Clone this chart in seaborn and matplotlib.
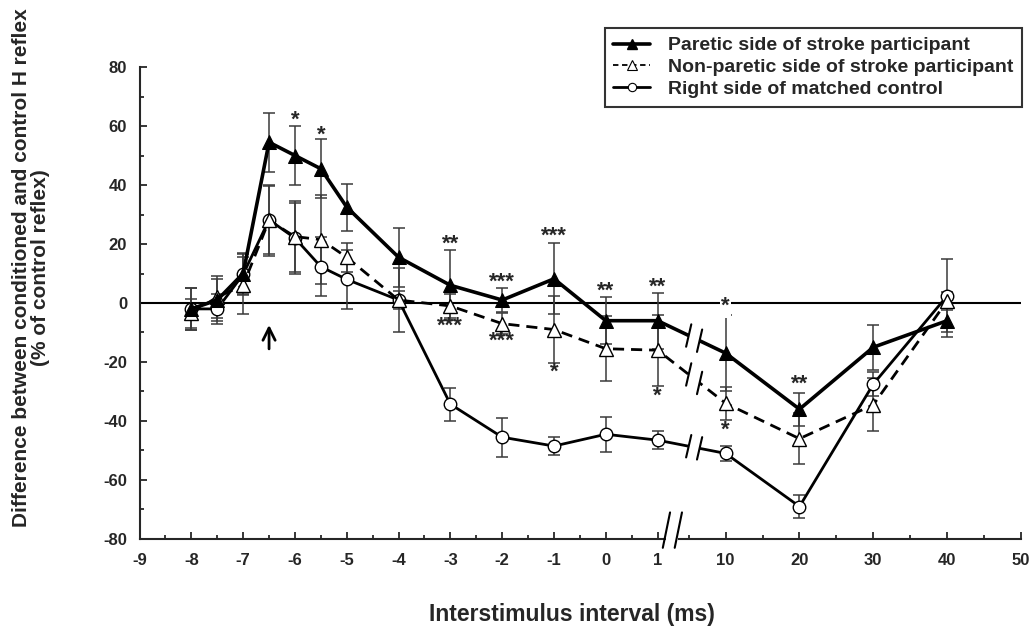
import numpy as np
import pandas as pd
import matplotlib
matplotlib.use("Agg")
import matplotlib.pyplot as plt
from matplotlib.lines import Line2D
from matplotlib.ticker import FixedLocator
import seaborn as sns

# interstimulus intervals (ms)
isi = [-8, -7.5, -7, -6.5, -6, -5.5, -5, -4, -3, -2, -1, 0, 1, 10, 20, 30, 40]

paretic = [-2, 1, 10, 54.5, 50, 45.5, 32.5, 15.5, 6, 1, 8.2, -6, -6, -17, -36, -15, -6]
paretic_err = [7, 7, 7, 10, 10, 10, 8, 10, 11.8, 4, 12, 8, 9.5, 13, 5.6, 7.6, 5.4]

nonparetic = [-3.5, 2, 6, 28, 22.5, 21.5, 15.5, 1, -1, -7, -9, -15.5, -16, -34, -46, -34.5, 0.7]
nonparetic_err = [5, 7, 9.6, 12, 12, 15, 5, 3, 4, 3.5, 11.5, 11, 12, 5.6, 8.7, 9, 3]

control = [-2, -2, 9.7, 28.2, 22, 12.3, 8, 1, -34.3, -45.5, -48.5, -44.5, -46.5, -51, -69, -27.5, 2.4]
control_err = [7, 5, 7, 11.5, 12, 10, 10, 11, 5.6, 6.6, 3, 6, 3, 2.5, 4, 4, 12.4]

# significance marks: isi, y value, text
sig_isi = [-6, -5.5, -3, -3, -2, -2, -1, -1, 0, 1, 1, 10, 10, 20]
sig_y = [62, 57, 20, -8, 7, -13, 22.5, -23.5, 4, 5.5, -31.5, -1, -43, -27.5]
sig_txt = ["*", "*", "**", "***", "***", "***", "***", "*", "**", "**", "*", "*", "*", "**"]

major_isi = [-9, -8, -7, -6, -5, -4, -3, -2, -1, 0, 1, 10, 20, 30, 40, 50]
minor_isi = [-8.5, -7.5, -6.5, -5.5, -4.5, -3.5, -2.5, -1.5, -0.5, 0.5, 5, 15, 25, 35, 45]


def isi_pos(v):
    # broken axis: unit spacing up to 1 ms, compressed scale from 10 ms on
    v = np.asarray(v, dtype=float)
    return np.where(v <= 1, v, 1 + 1.313 + (v - 10) * 0.1425)


sns.set_style("ticks")
plt.rcParams['font.family'] = ['Liberation Sans', 'DejaVu Sans']
plt.rcParams['font.weight'] = 'bold'
plt.rcParams['axes.unicode_minus'] = False

fig = plt.figure(figsize=(10.32, 6.27), dpi=100)
ax = fig.add_axes([0.1352, 0.1404, 0.8541, 0.7527])

df = pd.DataFrame({'pos': isi_pos(isi), 'paretic': paretic, 'nonparetic': nonparetic,
                   'control': control})

ax.axhline(0, color='black', lw=1.5, zorder=1)

err_kw = dict(fmt='none', ecolor='#3a3a3a', elinewidth=1.1, capsize=4, capthick=1.1, zorder=2)
ax.errorbar(df['pos'], df['control'], yerr=control_err, **err_kw)
ax.errorbar(df['pos'], df['nonparetic'], yerr=nonparetic_err, **err_kw)
ax.errorbar(df['pos'], df['paretic'], yerr=paretic_err, **err_kw)

sns.lineplot(data=df, x='pos', y='control', ax=ax, color='black', lw=2, marker='o',
             markersize=9, markerfacecolor='white', markeredgecolor='black',
             markeredgewidth=1, zorder=3)
sns.lineplot(data=df, x='pos', y='nonparetic', ax=ax, color='black', lw=2, linestyle=(0, (4, 2.5)),
             marker='^', markersize=10, markerfacecolor='white', markeredgecolor='black',
             markeredgewidth=1, zorder=4)
sns.lineplot(data=df, x='pos', y='paretic', ax=ax, color='black', lw=2.6, marker='^',
             markersize=10, markerfacecolor='black', markeredgecolor='black', zorder=5)

# break marks on the data lines between 1 and 10 ms
p1, p10 = float(isi_pos(1)), float(isi_pos(10))
b1, b2 = 1.60, 1.81
for series in (paretic, nonparetic, control):
    y1 = series[isi.index(1)]
    y10 = series[isi.index(10)]
    ya = np.interp(b1, [p1, p10], [y1, y10])
    yb = np.interp(b2, [p1, p10], [y1, y10])
    ax.plot([b1, b2], [ya, yb], color='white', lw=6, zorder=6, solid_capstyle='butt')
    for bx, by in ((b1, ya), (b2, yb)):
        ax.plot([bx - 0.05, bx + 0.05], [by - 3.8, by + 3.8], color='black', lw=1.5, zorder=7)

# axis break
a1, a2 = 1.17, 1.40
ax.plot([a1, a2], [-80, -80], color='white', lw=4, zorder=8, clip_on=False,
        solid_capstyle='butt')
for bx in (a1, a2):
    ax.plot([bx - 0.07, bx + 0.07], [-83, -71], color='black', lw=1.5, zorder=9,
            clip_on=False)

for xv, yv, t in zip(sig_isi, sig_y, sig_txt):
    bbox = None
    if xv == 10 and yv > -5:
        bbox = dict(facecolor='white', edgecolor='none', pad=1)
    ax.text(float(isi_pos(xv)), yv, t, ha='center', va='center', fontsize=16,
            fontweight='bold', zorder=10, bbox=bbox)

ax.annotate('', xy=(float(isi_pos(-6.5)), -6.5), xytext=(float(isi_pos(-6.5)), -16.5),
            arrowprops=dict(arrowstyle='->', lw=2, color='black', mutation_scale=22))

ax.set_xlim(-9, float(isi_pos(50)))
ax.set_ylim(-80, 80)
ax.xaxis.set_major_locator(FixedLocator(isi_pos(major_isi)))
ax.xaxis.set_minor_locator(FixedLocator(isi_pos(minor_isi)))
ax.set_xticklabels([str(v) for v in major_isi])
ax.set_yticks(np.arange(-80, 81, 20))
ax.set_yticks(np.arange(-70, 80, 20), minor=True)
ax.tick_params(which='major', direction='in', length=5, width=1.3, labelsize=12, pad=10)
ax.tick_params(axis='y', which='major', pad=9)
ax.tick_params(which='minor', direction='in', length=3, width=1.3)
for lab in ax.get_xticklabels() + ax.get_yticklabels():
    lab.set_fontweight('bold')

sns.despine(ax=ax)
for s in ('left', 'bottom'):
    ax.spines[s].set_linewidth(1.5)

ax.set_xlabel('Interstimulus interval (ms)', fontsize=16.5, fontweight='bold')
ax.xaxis.set_label_coords(0.491, -0.135)
ax.set_ylabel('Difference between conditioned and control H reflex\n(% of control reflex)',
              fontsize=15, fontweight='bold', linespacing=1.0)
ax.yaxis.set_label_coords(-0.1016, 0.574)

handles = [
    Line2D([], [], color='black', lw=2.6, marker='^', markersize=7, markerfacecolor='black'),
    Line2D([], [], color='black', lw=1.3, linestyle=(0, (3, 2)), marker='^', markersize=7,
           markerfacecolor='white', markeredgewidth=0.8),
    Line2D([], [], color='black', lw=2, marker='o', markersize=6, markerfacecolor='white',
           markeredgewidth=0.8),
]
labels = ['Paretic side of stroke participant', 'Non-paretic side of stroke participant',
          'Right side of matched control']
leg = ax.legend(handles, labels, loc='upper right', bbox_to_anchor=(1022 / 1032, 1 - 28 / 627),
                bbox_transform=fig.transFigure, frameon=True, fancybox=False,
                borderaxespad=0, fontsize=14, handlelength=1.9, handletextpad=0.9,
                labelspacing=0.22, borderpad=0.45)
leg.get_frame().set_edgecolor('black')
leg.get_frame().set_linewidth(1.5)
for t in leg.get_texts():
    t.set_fontweight('bold')

fig.savefig('out.png', dpi=100)
